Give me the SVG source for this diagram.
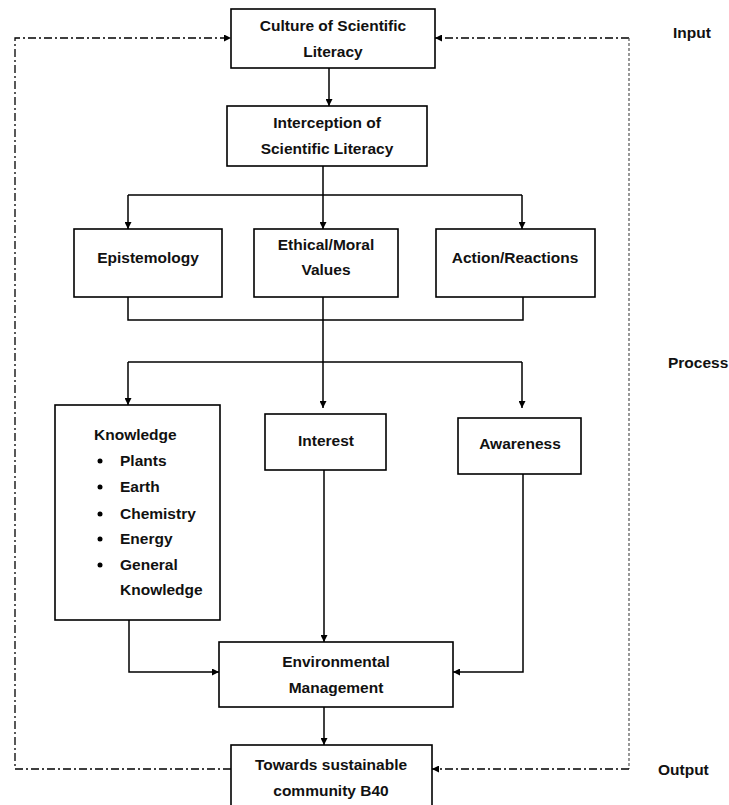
<svg xmlns="http://www.w3.org/2000/svg" width="729" height="805" viewBox="0 0 729 805">
<style>
.box{fill:#fff;stroke:#000;stroke-width:1.6}
.t{font-family:"Liberation Sans",Arial,sans-serif;font-weight:bold;font-size:15.5px;fill:#111;text-anchor:middle}
.tl{font-family:"Liberation Sans",Arial,sans-serif;font-weight:bold;font-size:15.5px;fill:#111}
.c{fill:none;stroke:#000;stroke-width:1.5}
.d{fill:none;stroke:#000;stroke-width:1.3;stroke-dasharray:8 3 2 3}
.dg{fill:none;stroke:#555;stroke-width:1.2;stroke-dasharray:3 2}
</style>
<defs>
<marker id="ah" viewBox="0 0 10 10" refX="10" refY="5" markerWidth="7" markerHeight="7" orient="auto" markerUnits="userSpaceOnUse">
<path d="M0,0 L10,5 L0,10 z" fill="#000"/>
</marker>
</defs>
<rect width="729" height="805" fill="#fff"/>
<g id="connectors">
<path class="c" d="M329,68 V106" marker-end="url(#ah)"/>
<path class="c" d="M323,166 V195 M128,195 H522"/>
<path class="c" d="M128,195 V229" marker-end="url(#ah)"/>
<path class="c" d="M323,195 V229" marker-end="url(#ah)"/>
<path class="c" d="M522,195 V229" marker-end="url(#ah)"/>
<path class="c" d="M128,297 V320 H523 V297 M323,297 V320"/>
<path class="c" d="M323,320 V408" marker-end="url(#ah)"/>
<path class="c" d="M128,362 H522"/>
<path class="c" d="M128,362 V405" marker-end="url(#ah)"/>
<path class="c" d="M522,362 V408" marker-end="url(#ah)"/>
<path class="c" d="M324,470 V642" marker-end="url(#ah)"/>
<path class="c" d="M129,620 V672 H219" marker-end="url(#ah)"/>
<path class="c" d="M523,474 V672 H453" marker-end="url(#ah)"/>
<path class="c" d="M324,707 V745" marker-end="url(#ah)"/>
<path class="d" d="M231,769 H15 V38 H231" marker-end="url(#ah)"/>
<path class="d" d="M629,38 H435" marker-end="url(#ah)"/>
<path class="dg" d="M629,38 V769"/>
<path class="d" d="M629,769 H432" marker-end="url(#ah)"/>
</g>
<g id="culture">
<rect class="box" x="231" y="9" width="204" height="59"/>
<text class="t" x="333" y="31">Culture of Scientific</text>
<text class="t" x="333" y="57">Literacy</text>
</g>
<g id="interception">
<rect class="box" x="227" y="106" width="200" height="60"/>
<text class="t" x="327" y="128">Interception of</text>
<text class="t" x="327" y="154">Scientific Literacy</text>
</g>
<g id="epistemology">
<rect class="box" x="74" y="229" width="148" height="68"/>
<text class="t" x="148" y="263">Epistemology</text>
</g>
<g id="ethical">
<rect class="box" x="254" y="229" width="144" height="68"/>
<text class="t" x="326" y="250">Ethical/Moral</text>
<text class="t" x="326" y="275">Values</text>
</g>
<g id="action">
<rect class="box" x="436" y="229" width="159" height="68"/>
<text class="t" x="515" y="263">Action/Reactions</text>
</g>
<g id="knowledge">
<rect class="box" x="55" y="405" width="165" height="215"/>
<text class="tl" x="94" y="440">Knowledge</text>
<circle cx="100" cy="461" r="2.5" fill="#000"/>
<text class="tl" x="120" y="466">Plants</text>
<circle cx="100" cy="487" r="2.5" fill="#000"/>
<text class="tl" x="120" y="492">Earth</text>
<circle cx="100" cy="514" r="2.5" fill="#000"/>
<text class="tl" x="120" y="519">Chemistry</text>
<circle cx="100" cy="539" r="2.5" fill="#000"/>
<text class="tl" x="120" y="544">Energy</text>
<circle cx="100" cy="565" r="2.5" fill="#000"/>
<text class="tl" x="120" y="570">General</text>
<text class="tl" x="120" y="595">Knowledge</text>
</g>
<g id="interest">
<rect class="box" x="265" y="414" width="121" height="56"/>
<text class="t" x="326" y="446">Interest</text>
</g>
<g id="awareness">
<rect class="box" x="458" y="418" width="123" height="56"/>
<text class="t" x="520" y="449">Awareness</text>
</g>
<g id="environmental">
<rect class="box" x="219" y="642" width="234" height="65"/>
<text class="t" x="336" y="667">Environmental</text>
<text class="t" x="336" y="693">Management</text>
</g>
<g id="towards">
<rect class="box" x="231" y="745" width="201" height="66"/>
<text class="t" x="331" y="770">Towards sustainable</text>
<text class="t" x="331" y="796">community B40</text>
</g>
<g id="labels">
<text class="tl" x="673" y="38">Input</text>
<text class="tl" x="668" y="368">Process</text>
<text class="tl" x="658" y="775">Output</text>
</g>
</svg>
